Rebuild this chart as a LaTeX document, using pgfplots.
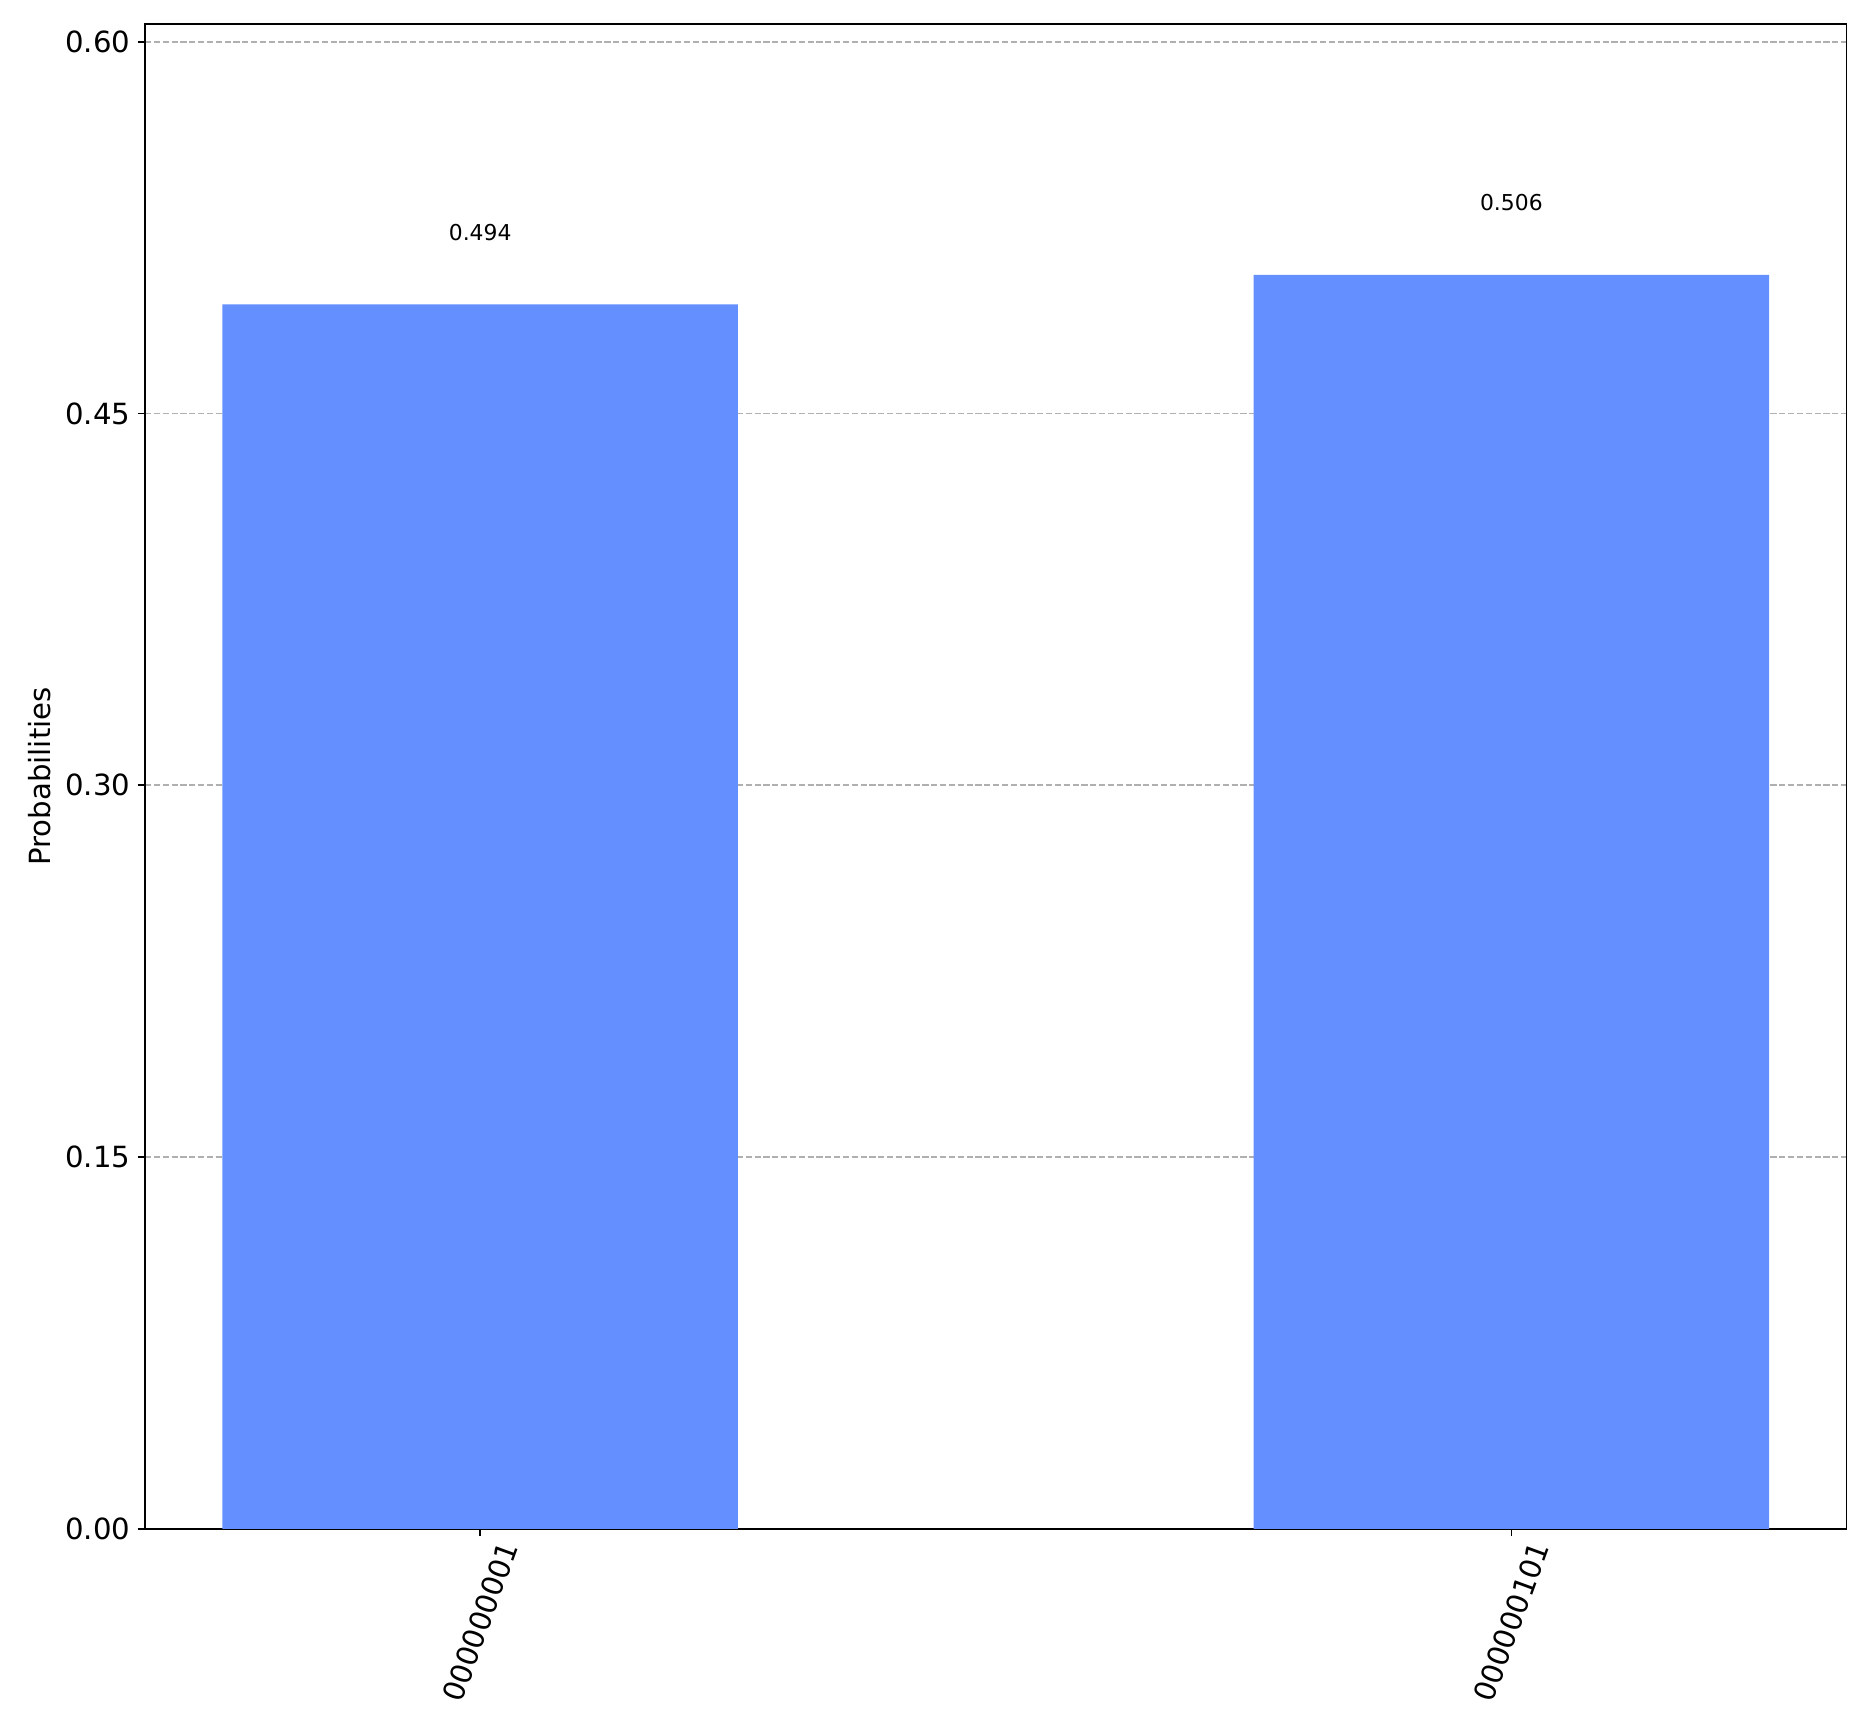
\documentclass[border=0pt]{standalone}
\usepackage{fontspec}
\setmainfont{DejaVu Sans}
\usepackage{pgfplots}
\pgfplotsset{compat=1.18}
\definecolor{barblue}{HTML}{648FFF}
\definecolor{gridgray}{HTML}{B0B0B0}
\begin{document}
\begin{tikzpicture}
\begin{axis}[
  name=ax,
  scale only axis,
  width=816.7pt, height=722.3pt,
  /pgf/number format/assume math mode=true,
  ybar, bar width=0.5,
  xmin=-0.325, xmax=1.325,
  ymin=0, ymax=0.6072,
  xtick={0,1},
  xticklabels={000000001,000000101},
  ytick={0,0.15,0.30,0.45,0.60},
  yticklabel style={/pgf/number format/.cd,fixed,fixed zerofill,precision=2},
  tick label style={font=\fontsize{14}{16}\selectfont},
  xticklabel style={xshift=15pt, rotate=70, anchor=east},
  tick align=outside,
  major tick length=3.5pt,
  xtick pos=bottom, ytick pos=left,
  every tick/.style={black, line width=0.8pt},
  axis line style={line width=0.8pt},
  ymajorgrids,
  major grid style={gridgray, line width=0.8pt, dash pattern=on 2.96pt off 1.28pt},
  ylabel={Probabilities},
  every axis y label/.style={at={(rel axis cs:0,0.5)}, xshift=-50.6pt, rotate=90, anchor=center, font=\fontsize{14}{16}\selectfont},
  point meta=y,
  nodes near coords={\pgfmathprintnumber[fixed,fixed zerofill,precision=3]{\pgfplotspointmeta}},
  every node near coord/.style={anchor=center, yshift=34.6pt, black, font=\fontsize{10.5}{12}\selectfont},
]
\addplot[fill=barblue, draw=none] coordinates {(0,0.494) (1,0.506)};
\end{axis}
\path ([xshift=-69.6pt,yshift=-99.1pt]ax.south west) rectangle ([xshift=13.2pt,yshift=11.5pt]ax.north east);
\end{tikzpicture}
\end{document}
